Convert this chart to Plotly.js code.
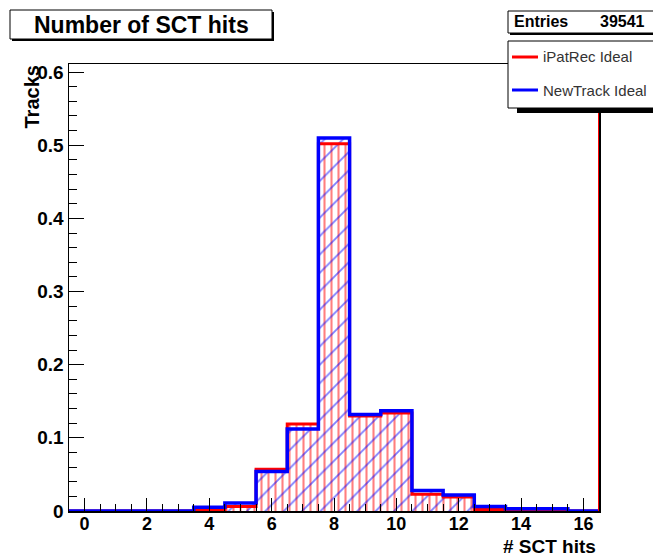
<!DOCTYPE html>
<html>
<head>
<meta charset="utf-8">
<script src="https://cdn.plot.ly/plotly-3.0.1.min.js"></script>
<style>html,body{margin:0;padding:0;background:#fff;}#chart{width:653px;height:557px;}</style>
</head>
<body>
<div id="chart"></div>
<script>
// ---- data ----
const binCenters = [0,1,2,3,4,5,6,7,8,9,10,11,12,13,14,15,16];
const iPatRec  = [0,0,0,0,0.002,0.006,0.057,0.119,0.502,0.130,0.134,0.023,0.019,0.002,0.001,0.001,0];
const newTrack = [0,0,0,0,0.005,0.011,0.054,0.112,0.510,0.132,0.137,0.028,0.022,0.006,0.003,0.003,0];
const seriesNames = ["iPatRec Ideal", "NewTrack Ideal"];
const chartTitle = "Number of SCT hits";
const xTitle = "# SCT hits";
const yTitle = "Tracks";
const entries = "39541";

// ---- helpers ----
const W = 653, H = 557;
const L = 69, R = 599, T = 64, B = 511;
const px = x => (x - L) / (R - L);
const py = y => (B - y) / (B - T);
const FONT = "Liberation Sans, Arial, Helvetica, sans-serif";

function stepXY(centers, vals) {
  const xs = centers.map(c => c - 0.5);
  xs.push(centers[centers.length - 1] + 0.5);
  const ys = vals.slice();
  ys.push(vals[vals.length - 1]);
  return {xs, ys};
}
const redStep = stepXY(binCenters, iPatRec);
const blueStep = stepXY(binCenters, newTrack);

const traces = [
  {type:'bar', x:binCenters, y:iPatRec, width:1, showlegend:false, hoverinfo:'skip',
   marker:{color:'rgba(0,0,0,0)', line:{width:0},
     pattern:{shape:'|', fgcolor:'#ff0000', bgcolor:'rgba(0,0,0,0)', size:7, solidity:0.3, fillmode:'overlay'}}},
  {type:'scatter', mode:'lines', x:redStep.xs, y:redStep.ys, name:seriesNames[0], showlegend:false,
   line:{shape:'hv', color:'#ff0000', width:3}},
  {type:'bar', x:binCenters, y:newTrack, width:1, showlegend:false, hoverinfo:'skip',
   marker:{color:'rgba(0,0,0,0)', line:{width:0},
     pattern:{shape:'/', fgcolor:'#0000ff', bgcolor:'rgba(0,0,0,0)', size:13, solidity:0.14, fillmode:'overlay'}}},
  {type:'scatter', mode:'lines', x:blueStep.xs, y:blueStep.ys, name:seriesNames[1], showlegend:false,
   line:{shape:'hv', color:'#0000ff', width:3.5}}
];

const shapes = [
  // red overflow edge line
  {type:'line', xref:'x', yref:'paper', x0:16.5, x1:16.5, y0:0, y1:1, line:{color:'#ff0000', width:2}, layer:'above'},
  // title box shadow + box
  {type:'rect', xref:'paper', yref:'paper', x0:px(12), x1:px(274), y0:py(12), y1:py(41), fillcolor:'#000', line:{width:0}, layer:'above'},
  {type:'rect', xref:'paper', yref:'paper', x0:px(10), x1:px(272), y0:py(10), y1:py(39), fillcolor:'#fff', line:{color:'#000', width:1}, layer:'above'},
  // stats box
  {type:'rect', xref:'paper', yref:'paper', x0:px(510), x1:px(660), y0:py(13), y1:py(35), fillcolor:'#000', line:{width:0}, layer:'above'},
  {type:'rect', xref:'paper', yref:'paper', x0:px(508), x1:px(658), y0:py(11), y1:py(33), fillcolor:'#fff', line:{color:'#000', width:1}, layer:'above'},
  // legend box
  {type:'rect', xref:'paper', yref:'paper', x0:px(517), x1:px(665), y0:py(44), y1:py(113), fillcolor:'#000', line:{width:0}, layer:'above'},
  {type:'rect', xref:'paper', yref:'paper', x0:px(508), x1:px(660), y0:py(41), y1:py(108), fillcolor:'#fff', line:{color:'#000', width:1}, layer:'above'},
  {type:'line', xref:'paper', yref:'paper', x0:px(512), x1:px(538), y0:py(57), y1:py(57), line:{color:'#ff0000', width:3}, layer:'above'},
  {type:'line', xref:'paper', yref:'paper', x0:px(512), x1:px(538), y0:py(90), y1:py(90), line:{color:'#0000ff', width:3}, layer:'above'}
];

const annotations = [
  {text:chartTitle, xref:'paper', yref:'paper', x:px(141), y:py(25), xanchor:'center', yanchor:'middle', showarrow:false,
   font:{family:FONT, size:23, weight:'bold', color:'#000'}},
  {text:'Entries', xref:'paper', yref:'paper', x:px(512), y:py(22), xanchor:'left', yanchor:'middle', showarrow:false,
   font:{family:FONT, size:16, weight:'bold', color:'#000'}},
  {text:entries, xref:'paper', yref:'paper', x:px(647), y:py(22), xanchor:'right', yanchor:'middle', showarrow:false,
   font:{family:FONT, size:16, weight:'bold', color:'#000'}},
  {text:seriesNames[0], xref:'paper', yref:'paper', x:px(541), y:py(57), xanchor:'left', yanchor:'middle', showarrow:false,
   font:{family:FONT, size:15, color:'#333'}},
  {text:seriesNames[1], xref:'paper', yref:'paper', x:px(541), y:py(90), xanchor:'left', yanchor:'middle', showarrow:false,
   font:{family:FONT, size:15, color:'#333'}},
  {text:xTitle, xref:'paper', yref:'paper', x:px(598), y:py(546), xanchor:'right', yanchor:'middle', showarrow:false,
   font:{family:FONT, size:19, weight:'bold', color:'#000'}},
  {text:yTitle, xref:'paper', yref:'paper', x:px(31), y:py(64), xanchor:'center', yanchor:'top', textangle:-90, showarrow:false,
   font:{family:FONT, size:20, weight:'bold', color:'#000'}}
];

const layout = {
  width:W, height:H,
  margin:{l:L, r:W-R, t:T, b:H-B, pad:0},
  paper_bgcolor:'#fff', plot_bgcolor:'#fff',
  barmode:'overlay', bargap:0,
  showlegend:false,
  font:{family:FONT, color:'#000'},
  xaxis:{range:[-0.5,16.5], tick0:0, dtick:2, ticks:'inside', ticklen:13, tickwidth:1, tickcolor:'#000',
    minor:{dtick:0.5, ticks:'inside', ticklen:7, tickwidth:1, tickcolor:'#000'},
    showgrid:false, zeroline:false, showline:true, mirror:true, linecolor:'#000', linewidth:1.5,
    ticklabelstandoff:-4,
    tickfont:{family:FONT, size:18, weight:'bold', color:'#000'}},
  yaxis:{range:[0,0.611], tick0:0, dtick:0.1, ticks:'inside', ticklen:15, tickwidth:1, tickcolor:'#000',
    minor:{dtick:0.02, ticks:'inside', ticklen:8, tickwidth:1, tickcolor:'#000'},
    showgrid:false, zeroline:false, showline:true, mirror:true, linecolor:'#000', linewidth:1.5,
    tickfont:{family:FONT, size:19, weight:'bold', color:'#000'}},
  shapes, annotations
};

Plotly.newPlot('chart', traces, layout, {displayModeBar:false, staticPlot:true});
</script>
</body>
</html>
